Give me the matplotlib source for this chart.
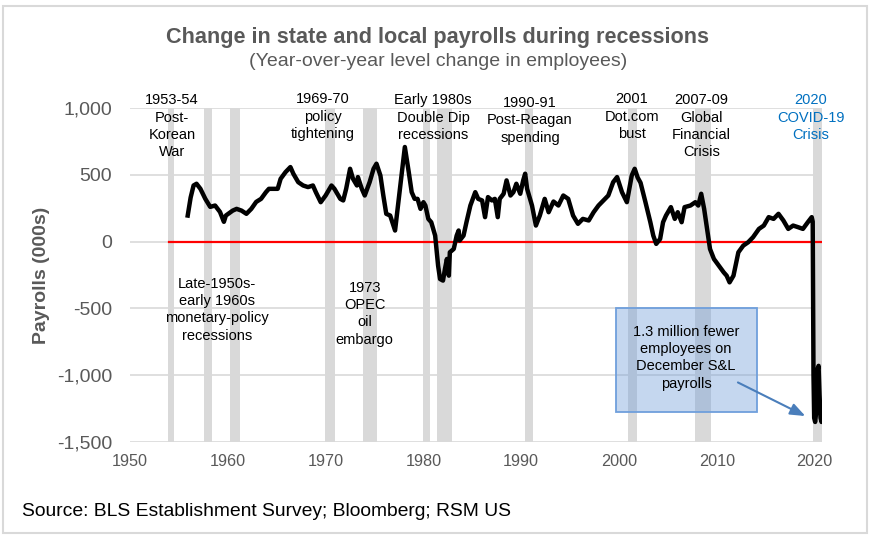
import matplotlib.pyplot as plt
from matplotlib.patches import Rectangle

plt.rcParams['font.family'] = ['Liberation Sans', 'DejaVu Sans']

# year-over-year change in state & local payrolls (000s)
years = [1955.9, 1956.2, 1956.5, 1956.8, 1957.2, 1957.7, 1958.2, 1958.7, 1959.2, 1959.6,
         1959.8, 1960.5, 1960.9, 1961.4, 1961.9, 1962.4, 1962.9, 1963.4, 1963.9, 1964.2,
         1964.8, 1965.1, 1965.4, 1965.9, 1966.4, 1966.7, 1967.2, 1967.7, 1968.2, 1968.7,
         1969.0, 1969.5, 1970.0, 1970.6, 1970.9, 1971.5, 1971.8, 1972.1, 1972.5, 1972.8,
         1973.2, 1973.3, 1973.7, 1974.0, 1974.5, 1974.9, 1975.2, 1975.6, 1975.9, 1976.2,
         1976.6, 1977.1, 1977.4, 1977.8, 1978.1, 1978.5, 1978.8, 1979.1, 1979.4, 1979.7,
         1980.0, 1980.2, 1980.5, 1980.8, 1981.2, 1981.5, 1981.7, 1982.0, 1982.2, 1982.4,
         1982.6, 1982.7, 1983.1, 1983.4, 1983.6, 1983.7, 1984.1, 1984.4, 1984.8, 1985.3,
         1985.6, 1986.0, 1986.3, 1986.6, 1987.0, 1987.3, 1987.6, 1987.8, 1988.2, 1988.5,
         1988.9, 1989.2, 1989.5, 1989.9, 1990.2, 1990.4, 1990.6, 1991.1, 1991.5, 1991.9,
         1992.4, 1992.8, 1993.3, 1993.8, 1994.3, 1994.8, 1995.3, 1995.8, 1996.3, 1996.9,
         1997.4, 1997.9, 1998.4, 1998.9, 1999.4, 1999.8, 2000.3, 2000.8, 2001.3, 2001.6,
         2001.9, 2002.2, 2002.7, 2003.2, 2003.5, 2003.8, 2004.2, 2004.5, 2004.8, 2005.3,
         2005.7, 2006.0, 2006.4, 2006.7, 2007.3, 2007.8, 2008.1, 2008.4, 2008.7, 2009.0,
         2009.3, 2009.7, 2010.2, 2010.7, 2011.0, 2011.3, 2011.7, 2012.2, 2012.7, 2013.2,
         2013.7, 2014.3, 2014.8, 2015.3, 2015.8, 2016.3, 2016.8, 2017.3, 2017.8, 2018.3,
         2018.8, 2019.3, 2019.7, 2019.8, 2019.88, 2019.95, 2020.05, 2020.15, 2020.25, 2020.32,
         2020.4, 2020.5, 2020.6, 2020.7, 2020.75]
payroll_chg = [195, 330, 420, 433, 395, 320, 260, 270, 222, 148,
               195, 232, 245, 232, 208, 245, 297, 320, 370, 395,
               395, 395, 470, 520, 558, 508, 445, 420, 408, 420,
               370, 295, 345, 420, 395, 320, 308, 395, 545, 470,
               420, 483, 395, 345, 445, 545, 583, 495, 345, 208,
               195, 83, 270, 520, 708, 520, 370, 320, 320, 245,
               295, 270, 170, 145, 45, -180, -280, -292, -205, -130,
               -255, -80, -55, 45, 83, 8, 45, 145, 270, 370,
               320, 308, 183, 333, 308, 320, 183, 320, 358, 458,
               345, 370, 433, 358, 458, 508, 395, 270, 120, 195,
               320, 220, 300, 270, 345, 320, 195, 133, 170, 158,
               220, 270, 308, 345, 445, 483, 370, 295, 495, 545,
               480, 440, 295, 145, 45, -17, 20, 145, 195, 258,
               170, 220, 145, 258, 270, 295, 270, 358, 245, 95,
               -55, -130, -180, -230, -255, -305, -255, -80, -30, -5,
               33, 95, 120, 183, 170, 208, 158, 95, 120, 108,
               95, 145, 183, 150, -1000, -1320, -1350, -1280, -1250, -950,
               -930, -1150, -1320, -1350, -1330]

rec_start = [1953.85, 1957.6, 1960.2, 1969.9, 1973.8, 1980.0, 1981.4, 1990.4, 2000.9, 2007.8, 2019.85]
rec_end = [1954.5, 1958.4, 1961.2, 1970.95, 1975.3, 1980.7, 1982.9, 1991.2, 2001.8, 2009.4, 2020.75]

fig = plt.figure(figsize=(8.76, 5.43), dpi=100)
ax = fig.add_axes([130 / 876, 1 - 442 / 543, 692 / 876, 334 / 543])

fig.patches.append(Rectangle((3 / 876, 1 - 533 / 543), 864 / 876, 527 / 543,
                             transform=fig.transFigure, fill=False,
                             edgecolor='#d9d9d9', linewidth=1.5))

for s, e in zip(rec_start, rec_end):
    ax.axvspan(s, e, color='#d9d9d9', lw=0, zorder=1)

ax.plot([1954, 2020.75], [0, 0], color='#ff0000', lw=1.6, zorder=2)
ax.plot(years, payroll_chg, color='black', lw=3.2, zorder=3,
        solid_joinstyle='round')

ax.set_xlim(1950, 2020.75)
ax.set_ylim(-1500, 1000)
ax.set_yticks(range(-1500, 1001, 500))
ax.set_yticklabels([f'{v:,}' for v in range(-1500, 1001, 500)])
ax.set_xticks(range(1950, 2021, 10))
ax.grid(axis='y', color='#d9d9d9', lw=1.2, zorder=0)
ax.set_axisbelow(True)
for sp in ax.spines.values():
    sp.set_visible(False)
ax.tick_params(length=0, colors='#595959')
ax.tick_params(axis='y', labelsize=14, pad=13)
ax.tick_params(axis='x', labelsize=11.7, pad=9)
ax.set_ylabel('Payrolls (000s)', fontsize=14, fontweight='bold',
              color='#595959', labelpad=5)

fig.text(0.5, 1 - 38 / 543, 'Change in state and local payrolls during recessions',
         ha='center', va='center', fontsize=15.6, fontweight='bold', color='#595959')
fig.text(0.5, 1 - 62 / 543, '(Year-over-year level change in employees)',
         ha='center', va='center', fontsize=14, color='#595959')
fig.text(22 / 876, 1 - 511 / 543, 'Source: BLS Establishment Survey; Bloomberg; RSM US',
         ha='left', va='center', fontsize=13.9, color='black')

labels = [
    (1954.3, 1110, '1953-54\nPost-\nKorean\nWar', 'black'),
    (1969.7, 1117, '1969-70\npolicy\ntightening', 'black'),
    (1981.0, 1110, 'Early 1980s\nDouble Dip\nrecessions', 'black'),
    (1990.9, 1090, '1990-91\nPost-Reagan\nspending', 'black'),
    (2001.3, 1117, '2001\nDot.com\nbust', 'black'),
    (2008.4, 1110, '2007-09\nGlobal\nFinancial\nCrisis', 'black'),
    (2019.6, 1110, '2020\nCOVID-19\nCrisis', '#0070c0'),
    (1958.9, -262, 'Late-1950s-\nearly 1960s\nmonetary-policy\nrecessions', 'black'),
    (1974.0, -292, '1973\nOPEC\noil\nembargo', 'black'),
]
for x, y, t, c in labels:
    ax.text(x, y, t, ha='center', va='top', fontsize=10.5, color=c,
            linespacing=1.3, zorder=4)

ax.add_patch(Rectangle((1999.7, -1278), 14.4, 780, facecolor='#709dd9', alpha=0.4,
                       edgecolor='none', zorder=4))
ax.add_patch(Rectangle((1999.7, -1278), 14.4, 780, fill=False,
                       edgecolor='#6f9fdc', lw=1.3, zorder=4))
ax.text(2006.85, -870, '1.3 million fewer\nemployees on\nDecember S&L\npayrolls',
        ha='center', va='center', fontsize=10.5, color='black', linespacing=1.3, zorder=5)
ax.annotate('', xy=(2019.3, -1315), xytext=(2011.9, -1045),
            arrowprops=dict(arrowstyle='-|>,head_length=0.9,head_width=0.35',
                            color='#4a7ebb', lw=1.5), zorder=5)

fig.savefig('out.png', dpi=100)
